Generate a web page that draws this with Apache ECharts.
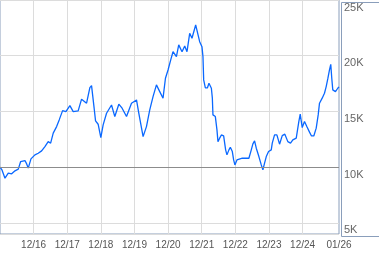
<!DOCTYPE html>
<html>
<head>
<meta charset="utf-8">
<script src="https://cdn.jsdelivr.net/npm/echarts@6/dist/echarts.min.js"></script>
<style>
html,body{margin:0;padding:0;background:#fff;}
#chart{width:379px;height:255px;}
</style>
</head>
<body>
<div id="chart"></div>
<script>
// Decimal-year positions of the sampled points
const years = [
2015.917,2015.976,2016.065,2016.163,2016.264,2016.363,2016.460,2016.532,2016.659,2016.710,
2016.757,2016.838,2016.956,2017.054,2017.155,2017.253,2017.351,2017.423,2017.500,2017.601,
2017.678,2017.779,2017.877,2017.996,2018.094,2018.242,2018.343,2018.492,2018.590,2018.640,
2018.717,2018.759,2018.836,2018.916,2018.985,2019.086,2019.234,2019.332,2019.451,2019.549,
2019.680,2019.828,2019.977,2020.045,2020.173,2020.273,2020.371,2020.469,2020.570,2020.668,
2020.766,2020.838,2020.915,2020.995,2021.063,2021.164,2021.233,2021.331,2021.411,2021.479,
2021.559,2021.627,2021.678,2021.737,2021.797,2021.856,2021.924,2021.954,2021.975,2022.025,
2022.085,2022.132,2022.174,2022.204,2022.233,2022.251,2022.322,2022.370,2022.400,2022.450,
2022.501,2022.569,2022.628,2022.667,2022.726,2022.768,2022.827,2022.866,2022.904,2022.964,
2023.023,2023.124,2023.163,2023.222,2023.320,2023.391,2023.439,2023.489,2023.540,2023.617,
2023.688,2023.736,2023.786,2023.837,2023.905,2023.985,2024.015,2024.083,2024.152,2024.232,
2024.312,2024.389,2024.478,2024.558,2024.627,2024.728,2024.805,2024.847,2024.906,2024.974,
2025.043,2025.123,2025.182,2025.250,2025.322,2025.381,2025.420,2025.500,2025.568,2025.619,
2025.666,2025.717,2025.755,2025.785,2025.815,2025.895,2025.963,2026.000
];
const values = [
10000,9750,9010,9460,9400,9670,9820,10500,10590,10290,
9910,10740,11100,11250,11460,11850,12290,12150,13050,13640,
14240,15070,14980,15520,14980,15050,16100,15740,17140,17320,
15290,14150,13850,12650,13790,14840,15580,14540,15650,15290,
14540,15740,16030,14840,12740,13640,15140,16330,17380,16780,
16190,17980,18720,19620,20360,19920,20970,20360,20880,20360,
22010,21570,21410,22760,22010,21260,20810,19920,17830,17110,
17110,17530,17580,17080,16190,14690,14540,13340,12290,12600,
12890,12800,11550,11100,11550,11790,11400,10650,10200,10650,
10800,10800,10950,10800,10800,11550,12090,12360,11700,10950,
10200,9760,10360,10950,11400,11550,12150,12890,12890,12060,
12830,12960,12290,12150,12450,12600,14090,14750,13550,14090,
13640,13140,12800,12800,13500,14690,15740,16190,16630,17230,
17920,18720,19230,17980,16930,16780,17080,17200
];
// X axis ticks (decimal years) and their labels
const tickYears = [2016.917,2017.917,2018.917,2019.917,2020.917,2021.917,2022.917,2023.917,2024.917,2026.0];
const tickLabels = ['12/16','12/17','12/18','12/19','12/20','12/21','12/22','12/23','12/24','01/26'];
const gridYears = tickYears.slice(0, 9);
const yMin = 4000, yMax = 25000;
const refValue = 10000;

const chart = echarts.init(document.getElementById('chart'), null, {renderer:'canvas'});
const data = years.map((y,i)=>[y, values[i]]);
chart.setOption({
  animation:false,
  backgroundColor:'#ffffff',
  grid:{left:0, right:40, top:0, bottom:21, show:true, borderColor:'#8a9ebb', borderWidth:1, backgroundColor:'transparent'},
  graphic:[{
    type:'rect', left:339, top:0, silent:true,
    shape:{width:39, height:234},
    style:{fill:'none', stroke:'#8a9ebb', lineWidth:1}
  }],
  xAxis:{
    type:'value', min:years[0], max:years[years.length-1],
    axisLine:{show:false},
    axisTick:{show:false, customValues:gridYears},
    splitLine:{show:true, lineStyle:{color:'#dcdcdc', width:1}},
    axisLabel:{
      customValues:tickYears,
      margin:6,
      color:'#555', fontSize:10, fontFamily:'Liberation Sans, Arial, sans-serif',
      formatter:function(v){
        for (let i=0;i<tickYears.length;i++){ if (Math.abs(tickYears[i]-v)<1e-6) return tickLabels[i]; }
        return '';
      }
    }
  },
  yAxis:{
    type:'value', position:'right', min:yMin, max:yMax,
    axisLine:{show:false}, axisTick:{show:false},
    splitLine:{show:true, lineStyle:{color:'#dcdcdc', width:1}},
    axisLabel:{
      margin:5, align:'left', verticalAlign:'top', padding:[2,0,0,0],
      color:'#666', fontSize:11, fontFamily:'Liberation Sans, Arial, sans-serif',
      formatter:function(v){ return (v % 5000 === 0) ? (v/1000)+'K' : ''; }
    }
  },
  series:[{
    type:'line', data:data, showSymbol:false, smooth:false,
    lineStyle:{color:'#0a68ff', width:1.3},
    z:3,
    markLine:{
      silent:true, symbol:'none', label:{show:false},
      lineStyle:{color:'#8c8c8c', type:'solid', width:1},
      data:[{yAxis:refValue}]
    }
  }]
});
</script>
</body>
</html>
